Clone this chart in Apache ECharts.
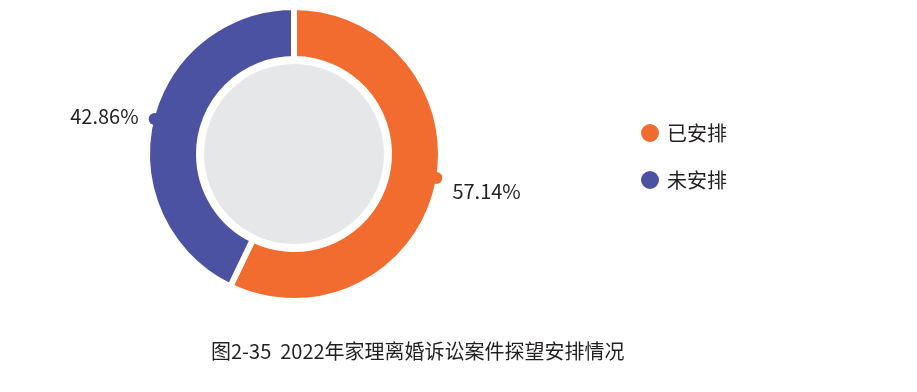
<!DOCTYPE html>
<html>
<head>
<meta charset="utf-8">
<script src="https://cdn.jsdelivr.net/npm/echarts@6/dist/echarts.min.js"></script>
<style>
html,body{margin:0;padding:0;background:#fff;}
#c{width:917px;height:392px;}
</style>
</head>
<body>
<div id="c"></div>
<script>
const categories = ['已安排', '未安排'];
const values = [57.14, 42.86];
const colors = ['#F26C30', '#4B52A2'];
const titleText = '图2-35  2022年家理离婚诉讼案件探望安排情况';

const FONT = '"Noto Sans CJK SC", "Noto Sans", sans-serif';
const center = [294, 154];
const textColor = '#231F20';

const ringData = categories.map((n, i) => ({ name: n, value: values[i], itemStyle: { color: colors[i] } }));
const dotData = categories.map((n, i) => ({ name: n, value: values[i], itemStyle: { color: 'transparent' },
  label: { rich: { dot: { width: 12, height: 12, borderRadius: 6, backgroundColor: colors[i] } } } }));
const textData = categories.map((n, i) => ({ name: n, value: values[i], itemStyle: { color: 'transparent' } }));

const dotOffsets = [[2, -8], [1, -3]];
const labelOffsets = [[18, 5], [-15, -6]];

const chart = echarts.init(document.getElementById('c'), null, { renderer: 'canvas' });
chart.setOption({
  animation: false,
  backgroundColor: '#fff',
  title: {
    text: titleText,
    left: 206,
    top: 336,
    textStyle: { fontFamily: FONT, fontSize: 20, fontWeight: 'normal', color: textColor }
  },
  legend: {
    data: categories,
    orient: 'vertical',
    left: 634,
    top: 117,
    icon: 'circle',
    itemWidth: 20,
    itemHeight: 20,
    itemGap: 25,
    textStyle: { fontFamily: FONT, fontSize: 20, color: textColor, padding: [0, 0, 0, 2] }
  },
  series: [
    {
      type: 'pie',
      center: center,
      radius: [95, 147],
      startAngle: 90,
      clockwise: true,
      silent: true,
      label: { show: false },
      labelLine: { show: false },
      itemStyle: { borderColor: '#fff', borderWidth: 6 },
      data: ringData,
      z: 2
    },
    {
      type: 'pie',
      center: center,
      radius: [0, 90],
      silent: true,
      label: { show: false },
      labelLine: { show: false },
      itemStyle: { color: '#E6E7E8' },
      data: [{ name: '', value: 1 }],
      legendHoverLink: false,
      z: 1
    },
    {
      type: 'pie',
      center: center,
      radius: [0, 144],
      startAngle: 90,
      silent: true,
      avoidLabelOverlap: false,
      label: { show: true, position: 'outside', formatter: '{dot|}', distanceToLabelLine: 0 },
      labelLine: { show: false, length: 0, length2: 0 },
      labelLayout: function (p) { const o = dotOffsets[p.dataIndex]; return { align: 'center', verticalAlign: 'middle', dx: o[0], dy: o[1] }; },
      data: dotData,
      z: 3
    },
    {
      type: 'pie',
      center: center,
      radius: [0, 144],
      startAngle: 90,
      silent: true,
      avoidLabelOverlap: false,
      label: {
        show: true, position: 'outside', distanceToLabelLine: 0,
        fontFamily: FONT, fontSize: 20, color: textColor,
        formatter: function (p) { return p.value.toFixed(2) + '%'; }
      },
      labelLine: { show: false, length: 0, length2: 0 },
      labelLayout: function (p) { const o = labelOffsets[p.dataIndex]; return { dx: o[0], dy: o[1] }; },
      data: textData,
      z: 3
    }
  ]
});
</script>
</body>
</html>
